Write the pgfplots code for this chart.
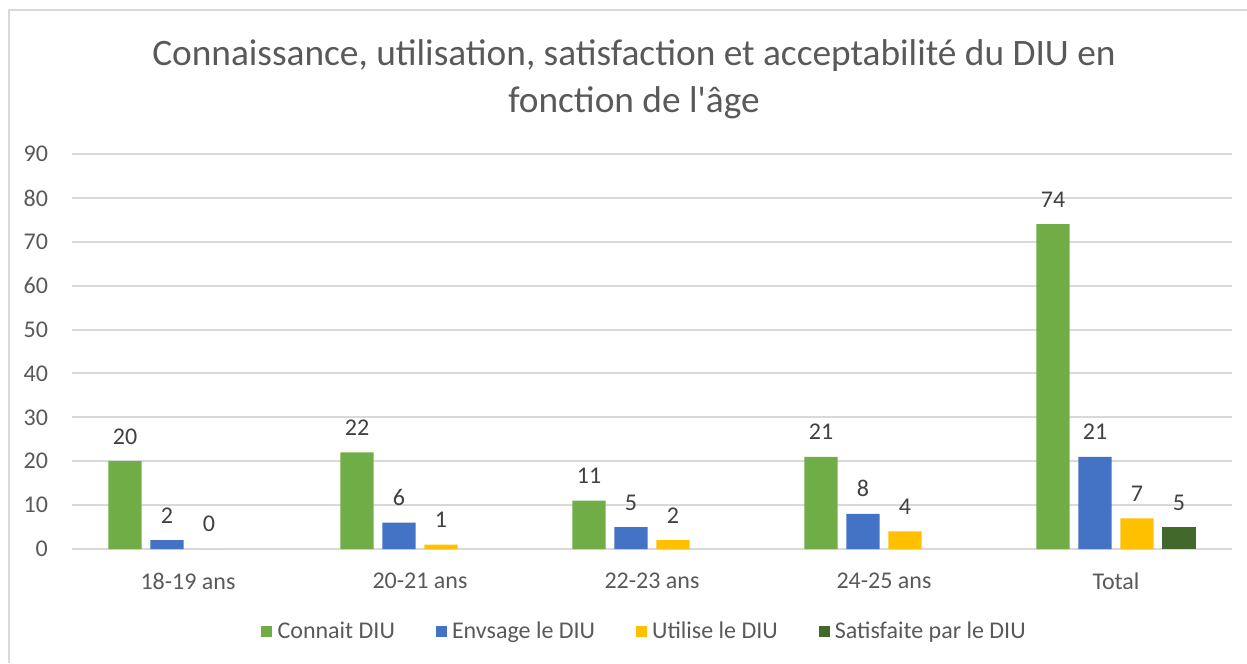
\documentclass[border=0pt]{standalone}
\usepackage{fontspec}
\setmainfont{Carlito}
\usepackage{pgfplots}
\pgfplotsset{compat=1.18}
\definecolor{connait}{HTML}{70AD47}
\definecolor{envsage}{HTML}{4472C4}
\definecolor{utilise}{HTML}{FFC000}
\definecolor{satisf}{HTML}{43682B}
\definecolor{gridc}{HTML}{D9D9D9}
\definecolor{txt}{HTML}{595959}
\definecolor{lbl}{HTML}{404040}

\begin{document}
\begin{tikzpicture}
  \useasboundingbox (-27pt,-42.75pt) rectangle (440.625pt,205.875pt);
  \draw[gridc, line width=0.75pt] (-23.625pt,-42.75pt) -- (-23.625pt,202.125pt) -- (440.625pt,202.125pt);
  \begin{axis}[
      scale only axis, width=435pt, height=148.125pt,
      ybar=3.35pt, bar width=12.4pt,
      xmin=-0.5, xmax=4.5, ymin=0, ymax=90, enlargelimits=false,
      xtick={0,1,2,3,4},
      xticklabels={18-19 ans,20-21 ans,22-23 ans,24-25 ans,Total},
      ytick={0,10,...,90},
      ymajorgrids, grid style={gridc, line width=0.75pt},
      axis line style={draw=none}, major tick style={draw=none},
      /pgf/number format/assume math mode=true,
      tick label style={font=\fontsize{9}{11}\selectfont, text=txt},
      yticklabel style={xshift=-5.5pt},
      xticklabel style={yshift=-1.3pt},
      nodes near coords,
      every node near coord/.append style={font=\fontsize{9}{11}\selectfont, text=lbl, yshift=2.8pt},
      title={Connaissance, utilisation, satisfaction et acceptabilité du DIU en\\fonction de l\textquotesingle âge},
      title style={font=\fontsize{14}{17.5}\selectfont, text=txt, align=center, at={(0.4845,1.148)}, anchor=center},
      legend columns=4,
      legend style={draw=none, fill=none, at={(0.495,-0.21)}, anchor=center,
        font=\fontsize{9}{11}\selectfont, text=txt,
        /tikz/every even column/.append style={column sep=13.3pt}},
      legend image code/.code={\fill[#1] (0pt,-2.05pt) rectangle (4.1pt,2.05pt);},
    ]
    \addplot[fill=connait, draw=none] coordinates {(0,20) (1,22) (2,11) (3,21) (4,74)};
    \addplot[fill=envsage, draw=none] coordinates {(0,2) (1,6) (2,5) (3,8) (4,21)};
    \addplot[fill=utilise, draw=none] coordinates {(0,0) (1,1) (2,2) (3,4) (4,7)};
    \addplot[fill=satisf, draw=none] coordinates {(4,5)};
    \legend{Connait DIU, Envsage le DIU, Utilise le DIU, Satisfaite par le DIU}
  \end{axis}
\end{tikzpicture}
\end{document}
